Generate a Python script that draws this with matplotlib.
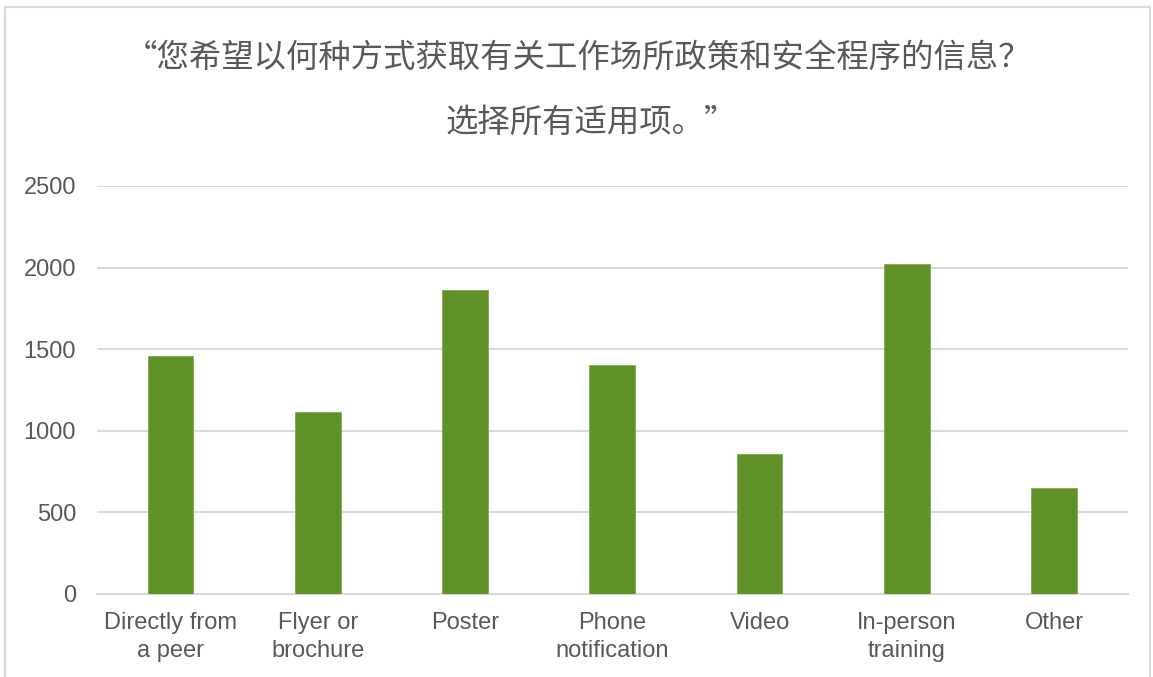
import matplotlib.pyplot as plt
import numpy as np
from matplotlib.patches import Rectangle

# Responses per channel
categories = [
    "Directly from\na peer",
    "Flyer or\nbrochure",
    "Poster",
    "Phone\nnotification",
    "Video",
    "In-person\ntraining",
    "Other",
]
counts = [1458, 1115, 1863, 1403, 858, 2022, 650]
yticks = [0, 500, 1000, 1500, 2000, 2500]

title_line1 = "“您希望以何种方式获取有关工作场所政策和安全程序的信息？"
title_line2 = "选择所有适用项。”"

text_gray = "#595959"
grid_gray = "#d9d9d9"
bar_green = "#5f9128"

plt.rcParams["font.family"] = ["Liberation Sans", "DejaVu Sans"]

fig = plt.figure(figsize=(11.53, 6.77), dpi=100)
ax = fig.add_axes([0.0841, 0.1226, 0.8939, 0.6027])

x = np.arange(len(categories))
ax.bar(x, counts, width=0.31, color=bar_green, edgecolor="#7fae4c", linewidth=0.6, zorder=3)

ax.set_xlim(-0.5, len(categories) - 0.5)
ax.set_ylim(0, 2500)
ax.set_yticks(yticks)
ax.set_yticklabels([str(v) for v in yticks])
ax.set_xticks(x)
ax.set_xticklabels(categories, linespacing=1.35)

ax.grid(axis="y", color=grid_gray, linewidth=1.5, zorder=0)
for side in ["top", "right", "left"]:
    ax.spines[side].set_visible(False)
ax.spines["bottom"].set_color(grid_gray)
ax.spines["bottom"].set_linewidth(1.5)
ax.tick_params(axis="both", length=0, labelsize=17, colors=text_gray)
ax.tick_params(axis="y", pad=15)
ax.tick_params(axis="x", pad=13)

# Two-line chart title
cjk = ["Noto Sans CJK SC", "DejaVu Sans"]
fig.text(0.501, 0.914, title_line1, ha="center", va="center",
         fontsize=23.3, color=text_gray, family=cjk)
fig.text(0.513, 0.818, title_line2, ha="center", va="center",
         fontsize=23.3, color=text_gray, family=cjk)

# Thin frame around the chart area
fig.add_artist(Rectangle((5 / 1153, -0.05), 1145 / 1153, 1.05 - 7 / 677,
                         transform=fig.transFigure, fill=False,
                         edgecolor="#d9d9d9", linewidth=1.5))

plt.savefig("out.png", dpi=100)
